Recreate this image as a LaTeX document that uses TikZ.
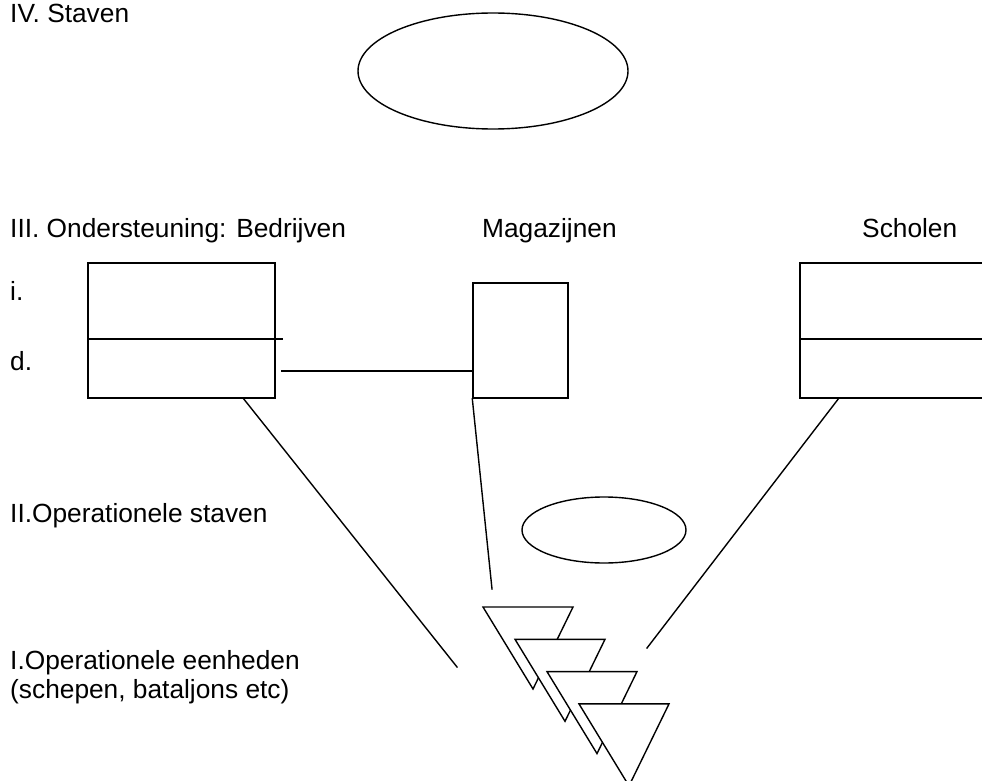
\documentclass[tikz,border=0pt]{standalone}
\usepackage{fontspec}
\setmainfont{Liberation Sans}
\usetikzlibrary{shapes.geometric,calc}
\begin{document}
\begin{tikzpicture}[x=1pt,y=-1pt,
  ln/.style={line width=1.4pt, line cap=rect},
  lbl/.style={anchor=base west, inner sep=0pt, font=\fontsize{26.3}{29}\selectfont},
  boxnode/.style={draw, line width=1.4pt, rectangle, inner sep=0pt},
  ovalnode/.style={draw, line width=1.4pt, ellipse, inner sep=0pt},
  trinode/.style={draw, line width=1.4pt, fill=white, line join=miter}
]
\useasboundingbox (0,0) rectangle (982,781);
\clip (0,0) rectangle (982,781);
% labels
\node[lbl] (t4) at (10,23) {IV. Staven};
\node[lbl] (t3) at (10,237) {III. Ondersteuning: Bedrijven};
\node[lbl] (tmag) at (482,237) {Magazijnen};
\node[lbl] (tsch) at (862,237) {Scholen};
\node[lbl] (ti) at (10,300) {i.};
\node[lbl] (td) at (10,370) {d.};
\node[lbl] (t2) at (10,522) {II.Operationele staven};
\node[lbl] (t1a) at (10,669) {I.Operationele eenheden};
\node[lbl] (t1b) at (10,698) {(schepen, bataljons etc)};
% top ellipse
\node[ovalnode, minimum width=270pt, minimum height=116pt] (staf4) at (493,71) {};
% boxes
\node[boxnode, minimum width=187pt, minimum height=135pt] (bedr) at (181.5,330.5) {};
\node[boxnode, minimum width=95pt, minimum height=115pt] (mag) at (520.5,340.5) {};
\node[boxnode, minimum width=200pt, minimum height=135pt] (sch) at (900,330.5) {};
% dividers
\coordinate (bdivR) at (282,339);
\draw[ln] (bedr.west |- bdivR) -- (bdivR);
\draw[ln] (sch.west |- bdivR) -- (sch.east |- bdivR);
% connector bedrijven - magazijnen
\coordinate (cL) at (282,371);
\draw[ln] (cL) -- (mag.west |- cL);
% small ellipse
\node[ovalnode, minimum width=164pt, minimum height=66pt] (staf2) at (604,530) {};
% triangles
\foreach \i in {0,1,2,3}{
  \draw[trinode] ($(483,607)+(32*\i,32.3*\i)$) -- ++(90,0) -- ++(-40,82) -- cycle;
}
% lines to units
\coordinate (bedrOut) at (243,398);
\coordinate (eL) at (457,667);
\draw[ln] (bedrOut) -- (eL);
\coordinate (eM) at (492,589);
\draw[ln] (mag.south west) -- (eM);
\coordinate (schOut) at (839,398);
\coordinate (eR) at (647,648);
\draw[ln] (schOut) -- (eR);
\end{tikzpicture}
\end{document}
